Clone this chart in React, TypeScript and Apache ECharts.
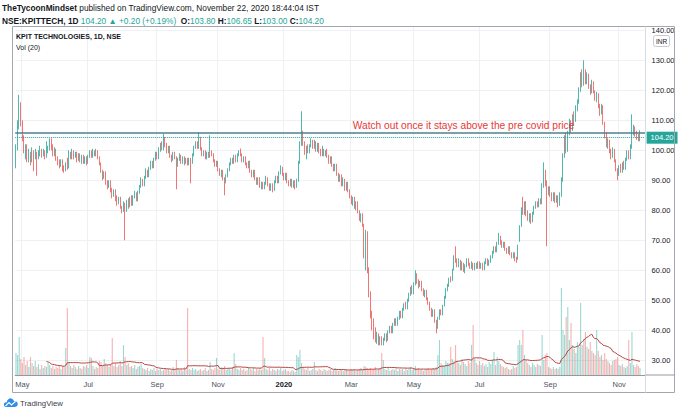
import React, { useEffect, useRef } from "react";
import * as echarts from "echarts";

// ---------- calendar ----------
const FIRST_DAY = "2019-04-24";
const LAST_DAY = "2020-11-20";
const HOLIDAYS = [
  "2019-04-29", "2019-05-01", "2019-06-05", "2019-08-12", "2019-08-15", "2019-09-02",
  "2019-09-10", "2019-10-02", "2019-10-08", "2019-10-21", "2019-10-28", "2019-11-12",
  "2019-12-25", "2020-02-21", "2020-03-10", "2020-04-02", "2020-04-06", "2020-04-10",
  "2020-04-14", "2020-05-01", "2020-05-25", "2020-10-02", "2020-11-16",
];
const PAD_DAYS = ["2020-11-23", "2020-11-24", "2020-11-25"];
const MONTHS = ["Jan", "Feb", "Mar", "Apr", "May", "Jun", "Jul", "Aug", "Sep", "Oct", "Nov", "Dec"];
const PRICE_TICKS = { min: 30, max: 140, step: 10 };

// ---------- daily candles [open, close, low, high] ----------
const CANDLES: number[][] = [
  [96,101,94,102],[101,108,100,110],[108,114,107,118.5],[114,109,108,116],[109,104,103,110],[104,100,99,105],[100,101,97,102],[101,97,96,102],[97,99,96,100.5],[99,97,95,99.5],
  [97,99.5,96,101],[99.5,98,93,100],[98,99,97,100.5],[99,97.5,91.5,99.5],[97.5,99,97,100],[99,100,98,101.5],[100,98.5,97.5,100.5],[98.5,99.5,98,100.5],[99.5,98,97,100],[98,99.5,97.5,103],
  [99.5,100.5,99,101.5],[100.5,103,100,104],[103,101,100,104],[101,98.5,98,102],[98.5,100,98,101],[100,97,96.5,100.5],[97,96,95,98],[96,95,94,97],[95,96.5,94.5,97],[96.5,94,93,97],
  [94,93.5,92.5,95],[93.5,95,93,96],[95,94.5,93.5,97.5],[94.5,99,94,100],[99,97.5,97,99.5],[97.5,99.5,97,100.5],[99.5,98,97,100],[98,99,97.5,99.5],[99,97,96,99.5],[97,98.5,96.5,99],
  [98.5,96.5,96,99],[96.5,98,95.5,98.5],[98,96,95.5,98.5],[96,97.5,95.5,98],[97.5,96,95,98],[96,98,95.5,98.5],[98,99.5,97.5,100],[99.5,98,97.5,100],[98,99.5,97.5,100.5],[99.5,98.5,98,100],
  [98.5,99.5,98,100.5],[99.5,97.5,97,100],[97.5,95.5,95,98],[95.5,93,92.5,96],[93,91,90,93.5],[91,92.5,90.5,93],[92.5,89,88.5,93],[89,88,87,90],[88,89.5,87.5,90],[89.5,87,86,90],
  [87,85,84,87.5],[85,86.5,84.5,87],[86.5,84,83,87],[84,82.5,81.5,85],[82.5,84,82,84.5],[84,81,80.5,84.5],[81,80,79,81.5],[80,82,79.5,83],[82,80,70,82.5],[80,83,79.5,83.5],
  [83,81.5,80.5,84],[81.5,84,81,84.5],[84,82,81.5,85],[82,84.5,81.5,85],[84.5,85.5,84,86.5],[85.5,83.5,83,86],[83.5,86,83,86.5],[86,88,85.5,88.5],[88,90,87.5,91],[90,88.5,88,90.5],
  [88.5,91,88,91.5],[91,93,90.5,94],[93,91.5,91,93.5],[91.5,94,91,94.5],[94,96,93.5,96.5],[96,94.5,94,96.5],[94.5,97,94,97.5],[97,99,96.5,99.5],[99,97.5,97,99.5],[97.5,100,97,101],
  [100,102,99.5,102.5],[102,100.5,100,103],[100.5,103.5,100,105.5],[103.5,102,101,104.5],[102,99.5,99,102.5],[99.5,101,99,101.5],[101,98,97.5,101.5],[98,97,96,98.5],[97,99,96.5,99.5],[99,97.5,97,99.5],
  [97.5,95,87,98],[95,97,94.5,97.5],[97,98,96.5,99],[98,96,95.5,98.5],[96,97.5,95.5,98],[97.5,96,95,98],[96,97,95.5,97.5],[97,95.5,95,97.5],[95.5,97,95,97.5],[97,96,89,97.5],
  [96,98.5,95.5,99],[98.5,101,98,101.5],[101,102.5,100.5,103],[102.5,101,100.5,103],[101,104,100.5,106],[104,100.5,100,104.5],[100.5,98.5,98,101],[98.5,99.5,98,100],[99.5,97.5,97,100],[97.5,99,97,99.5],
  [99,98,97.5,99.5],[98,99.5,97.5,105],[99.5,98.5,98,100],[98.5,96.5,96,99],[96.5,95,94.5,97],[95,96,94.5,96.5],[96,93.5,93,96.5],[93.5,92,91.5,94],[92,93,91,93.5],[93,90.5,90,93.5],
  [90.5,89.5,85,91],[89.5,91.5,89,92],[91.5,93.5,91,94],[93.5,95.5,93,96],[95.5,97,95,97.5],[97,96,95.5,97.5],[96,98,95.5,98.5],[98,96.5,96,98.5],[96.5,98.5,96,99],[98.5,99.5,98,100],
  [99.5,98.5,98,100.6],[98.5,96.5,96,99],[96.5,97.5,96,98],[97.5,95.5,95,98],[95.5,94.5,94,96],[94.5,96,94,96.5],[96,93,92.5,96.5],[93,91.5,91,93.5],[91.5,93,91,93.5],[93,90.5,90,93.5],
  [90.5,89,88.5,91],[89,90.5,88.5,91],[90.5,88,87.5,91],[88,89,87,89.5],[89,87.5,87,89.5],[87.5,89,87,89.5],[89,90.5,88.5,91.5],[90.5,88.5,88,91],[88.5,87,86.5,89],[87,88.5,86.5,89],
  [88.5,87,86,89],[87,89.5,86.5,90],[89.5,91,89,91.5],[91,89.5,89,91.5],[89.5,92.5,89,93],[92.5,94,92,95],[94,92,91.5,94.5],[92,90.5,90,92.5],[90.5,92,90,92.5],[92,89.5,89,92.5],
  [89.5,88.5,88,90],[88.5,90,88,90.5],[90,88,87.5,90.5],[88,89.5,87.5,90],[89.5,88,87,90],[88,90,87.5,90.5],[90,96,89.5,96.5],[96,102,95.5,103],[102,105,101.5,113],[105,102,101.5,106.5],
  [102,99,98.5,103],[99,101,97,101.5],[101,99.5,99,102],[99.5,101.5,99,102],[101.5,103,101,104],[103,101,100.5,103.5],[101,102.5,100.5,103.5],[102.5,100,99.5,103],[100,102,99.5,102.5],[102,100,99,102.5],
  [100,98.5,98,100.5],[98.5,100,98,101.5],[100,98.5,98,100.5],[98.5,99.5,98,100],[99.5,98,97.5,100.5],[98,96,95.5,98.5],[96,97.5,95.5,98],[97.5,95,94.5,98],[95,93.5,93,95.5],[93.5,95,93,95.5],
  [95,92,91.5,95.5],[92,90,89.5,92.5],[90,91.5,89.5,92],[91.5,88.5,88,92],[88.5,90,88,91],[90,87,86.5,90.5],[87,89,86.5,89.5],[89,86.5,86,89.5],[86.5,84.5,84,87],[84.5,82.5,82,85],
  [82.5,84,81.5,84.5],[84,81,80.5,84.5],[81,82.5,80,83],[82.5,79.5,79,83],[79.5,77,76.5,80],[77,78.5,76,79],[78.5,75,74.5,79],[75,66,64,75.5],[63,72,60,73.5],[72,60,59,73],
  [60,52,51,61],[52,45,44,53],[45,42,40,46.5],[42,38.5,37,44],[40,37,36,41],[37,38.5,35.5,39.5],[38.5,36,35,39],[36,37.5,35,38],[37.5,35.5,35,38],[35.5,37,35,37.5],
  [37,38.5,36.5,39],[38.5,37,36,39],[37,39.5,36.5,40],[39.5,41,39,41.5],[41,39.5,39,41.5],[39.5,42,39,42.5],[42,43.5,41.5,44],[43.5,42,41.5,44],[42,44,41.5,44.5],[44,46,43.5,46.5],
  [46,44.5,44,46.5],[44.5,47,44,47.5],[47,48.5,46.5,49],[48.5,47.5,47,49.5],[47.5,50,47,50.5],[50,52,49.5,52.5],[52,54,51.5,54.5],[54,52.5,52,55],[52.5,55.5,52,56],[55.5,58.5,55,60],
  [58.5,56,55.5,59],[56,55,54,57],[55,56,54.5,56.5],[56,53.5,53,56.5],[53.5,52,51.5,54],[52,53,51,53.5],[53,50.5,50,53.5],[50.5,49,48.5,51],[49,47,46.5,49.5],[47,45,44.5,47.5],
  [45,46.5,44.5,47],[46.5,43,42.5,47],[43,41,39,43.5],[41,44,40.5,44.5],[44,46.5,43.5,47],[46.5,45.5,45,47],[45.5,48,45,48.5],[48.5,51,48,51.5],[51,53.5,50.5,54],[53.5,55,53,55.5],
  [55,57,54.5,57.5],[57,56.5,56,58],[57,60,56.5,60.5],[60.5,64,60,65],[67,63,62.5,68],[63,61.5,61,64],[61.5,63,61,64],[63,60.5,60,63.5],[60.5,62,60,63],[62,60,59.5,62.5],
  [60,61.5,59,62],[61.5,63.5,61,64],[63.5,62,61.5,64],[62,61,60.5,62.5],[61,62,60.5,63],[62,60.5,60,62.5],[60.5,62,60,62.5],[62,61,60.5,62.5],[61,62.5,60.5,63],[62.5,61,60.5,63],
  [61,62,60.5,62.5],[62,60.5,60,62.5],[60.5,62.5,60,63],[62.5,63.5,62,64],[63.5,62,61.5,64],[62,63,61.5,63.5],[63,64.5,62.5,65],[64.5,66,64,66.5],[66,67.5,65.5,68],[67.5,66.5,66,68],
  [66.5,69,66,69.5],[69,71,68.5,72.5],[71,69,68.5,71.5],[69,68,67.5,70],[68,69,67.5,69.5],[69,67,66.5,69.5],[67,66,65.5,67.5],[66,67.5,65.5,68],[67.5,65.5,65,68],[65.5,64.5,64,66],
  [64.5,65.5,64,66],[65.5,64,63,66],[64,63.5,62.5,64.5],[64,68,63.5,68.5],[70,74,69.5,75],[75,80,74.5,81],[82,79,78.5,84.5],[79,82,78.5,83],[82,79,78,83],[79,77,76.5,80],
  [77,78.5,76,79],[78.5,76.5,75.5,79],[76.5,79,76,79.5],[79,81,78.5,81.5],[81,82.5,80.5,83],[82.5,81.5,81,83],[81.5,83.5,81,84],[83.5,82.5,82,84],[82.5,88,82,89],[88,93,87.5,96],
  [93,89,88,93.5],[89,86,68,90],[86,87.5,85,88],[87.5,85,84.5,88],[85,83.5,83,86],[83.5,85.5,83,86],[85.5,83,82.5,86],[83,84.5,82.5,85],[84.5,82,81,85],[82,85,81.5,86],
  [85,90,84.5,91],[90,98,89.5,99],[98,104,97.5,105],[104,100,99,106],[100,105.5,99.5,106.5],[105.5,109,105,110.5],[109,107,106,110],[107,111,106.5,112],[111,110,108.5,113],[110,114,109.5,115],
  [114,116,113,117],[116,120,115.5,121],[120,125,119.5,126],[125,122,121,127],[122,126,121.5,130],[126,122.5,122,127],[122.5,125,122,126],[125,121,120.5,125.5],[121,119.5,118.5,122],[119.5,122.5,119,123.5],
  [122.5,119.5,119,123],[119.5,117,116.5,120],[117,118.5,116,119.5],[118.5,114.5,114,119],[114.5,113,111.5,115.5],[113,114.5,112,115.5],[114.5,109,108.5,115],[109,105,104,109.5],[105,102,101,106],[102,103,100.5,104],
  [103,99.5,99,103.5],[99.5,98,97,100.5],[98,100,97.5,101],[100,96.5,96,100.5],[96.5,93.5,93,97],[93.5,92,90,94],[92,94.5,91.5,95],[94.5,93,92.5,95.5],[93,95.5,92.5,96],[95.5,94,93.5,96.5],
  [94,97,93.5,97.5],[97,99,96.5,100],[99,97.5,97,100],[97.5,101,97,102],[101,106,100.5,112],[106,107.5,105,108.5],[107.5,105,104.5,108],[105,104,103.5,106.5],[104.5,104,103,105.5],[103.8,104.2,103,106.65],
];

// ---------- daily volume ----------
const VOLUMES = [
  22,20,38,16,12,18,10,14,8,18, 12,9,14,8,11,6,10,7,9,8, 12,10,7,9,6,8,7,10,6,9, 8,27,67,12,9,7,10,8,6,9,
  7,6,9,8,10,7,18,17,9,6, 8,7,14,13,9,16,12,10,8,11, 37,9,12,8,10,14,9,30,18,10, 12,8,9,7,10,6,8,9,11,7,
  6,5,7,4,6,5,7,4,6,5, 6,4,5,7,5,6,4,5,8,6, 15,7,5,6,4,8,5,67,6,5, 7,5,6,4,5,6,4,5,7,4,
  5,13,6,5,7,17,6,5,8,6, 9,5,6,7,5,8,22,11,6,5, 7,5,6,4,5,8,6,5,7,4, 6,5,7,5,38,17,6,5,7,4,
  6,5,4,6,5,7,4,5,6,4, 4,3,5,4,3,20,18,25,12,8, 6,5,7,4,5,6,13,5,4,6, 5,4,6,5,4,5,6,4,5,7,
  5,4,6,5,4,5,6,4,5,6, 5,6,4,5,6,7,5,9,8,7, 6,7,5,6,8,5,6,7,22,15, 6,5,7,4,5,6,5,7,4,6,
  5,6,4,7,5,6,8,5,7,9, 6,7,5,6,4,5,6,7,5,6, 7,6,8,20,35,12,10,9,14,12, 12,28,16,14,30,14,12,10,16,13,
  11,9,14,12,30,50,16,12,10,14, 10,12,9,11,8,13,11,15,23,10, 18,14,11,9,8,7,8,6,5,6, 9,7,8,30,35,30,45,20,15,12,
  10,8,12,10,8,11,10,9,40,15, 20,22,8,7,6,8,6,7,6,8, 87,45,40,58,68,35,52,30,26,22, 33,28,72,30,36,43,28,26,33,24,
  22,20,45,24,18,20,15,22,16,14, 12,10,14,15,16,18,10,9,11,8, 7,9,35,12,43,10,8,11,9,7,
];
const VOL_MA_PERIOD = 20;

// ---------- annotations ----------
const PRE_COVID_LEVEL = 105.9;
const NOTE = "Watch out once it stays above the pre covid price";
const NOTE_ANCHOR = { index: 279, price: 108.3 };
const AUTHOR = "TheTycoonMindset";
const PUBLISHED = "November 22, 2020 18:44:04 IST";
const SYMBOL = "NSE:KPITTECH";
const TITLE = "KPIT TECHNOLOGIES, 1D, NSE";

// ---------- styling ----------
const UP = "#26a69a";
const DOWN = "#ef5350";
const UP_VOL = "rgba(38,166,154,0.45)";
const DOWN_VOL = "rgba(239,83,80,0.45)";
const TEXT = "#131722";
const GRID_LINE = "#eef0f4";
const FONT = "'Liberation Sans', Arial, 'DejaVu Sans', sans-serif";

function tradingDays(first: string, last: string, holidays: string[]): string[] {
  const skip = new Set(holidays);
  const out: string[] = [];
  const d = new Date(first + "T00:00:00Z");
  const end = new Date(last + "T00:00:00Z");
  while (d.getTime() <= end.getTime()) {
    const dow = d.getUTCDay();
    const s = d.toISOString().slice(0, 10);
    if (dow !== 0 && dow !== 6 && !skip.has(s)) out.push(s);
    d.setUTCDate(d.getUTCDate() + 1);
  }
  return out;
}

function buildOption() {
  const dates = tradingDays(FIRST_DAY, LAST_DAY, HOLIDAYS);
  const axisDates = dates.concat(PAD_DAYS);
  const n = Math.min(dates.length, CANDLES.length);

  const labelIdx = new Set<number>();
  for (let i = 1; i < n; i++) {
    const m = +dates[i].slice(5, 7) - 1;
    const pm = +dates[i - 1].slice(5, 7) - 1;
    if (m !== pm && m % 2 === 0) labelIdx.add(i);
  }
  const showIdx = (index: number) => labelIdx.has(index);

  const candleData = CANDLES.slice(0, n);
  const volData = VOLUMES.slice(0, n).map((v, i) => ({
    value: v,
    itemStyle: { color: candleData[i][1] >= candleData[i][0] ? UP_VOL : DOWN_VOL },
  }));
  const volMa = VOLUMES.slice(0, n).map((_, i) => {
    if (i < VOL_MA_PERIOD - 1) return "-";
    let s = 0;
    for (let k = i - VOL_MA_PERIOD + 1; k <= i; k++) s += VOLUMES[k];
    return +(s / VOL_MA_PERIOD).toFixed(2);
  });

  const last = candleData[n - 1];
  const prevClose = candleData[n - 2][1];
  const chg = last[1] - prevClose;
  const pct = (chg / prevClose) * 100;
  const f2 = (v: number) => v.toFixed(2);

  const line1 = `{b|${AUTHOR}}{n| published on TradingView.com, ${PUBLISHED}}`;
  const line2 =
    `{b|${SYMBOL}, 1D}{g| ${f2(last[1])} ▲ +${f2(chg)} (+${f2(pct)}%)}` +
    `{b|  O:}{g|${f2(last[0])}}{b| H:}{g|${f2(last[3])}}{b| L:}{g|${f2(last[2])}}{b| C:}{g|${f2(last[1])}}`;

  const headerRich = (size: number) => ({
    b: { fontWeight: "bold", fill: TEXT, fontSize: size, fontFamily: FONT },
    n: { fill: TEXT, fontSize: size, fontFamily: FONT },
    g: { fill: UP, fontSize: size, fontFamily: FONT },
  });

  const gridL = 15.2;
  const gridR = 34.4;

  return {
    animation: false,
    backgroundColor: "#ffffff",
    textStyle: { fontFamily: FONT },
    grid: [
      { left: gridL, right: gridR, top: 30.3, height: 330 },
      { left: gridL, right: gridR, top: 27, height: 348 },
    ],
    xAxis: [
      {
        type: "category",
        gridIndex: 0,
        data: axisDates,
        axisLine: { show: false },
        axisTick: { show: false },
        axisLabel: { show: false },
        splitLine: { show: false },
      },
      {
        type: "category",
        gridIndex: 1,
        data: axisDates,
        axisLine: { show: true, lineStyle: { color: "#9598a1", width: 1 } },
        axisTick: { show: false },
        axisLabel: {
          show: true,
          interval: (index: number) => showIdx(index),
          margin: 5,
          fontSize: 7.5,
          color: "#4c525e",
          formatter: (value: string) => {
            const m = +value.slice(5, 7) - 1;
            return m === 0 ? `{y|${value.slice(0, 4)}}` : MONTHS[m];
          },
          rich: { y: { fontWeight: "bold", fontSize: 7.5, color: TEXT } },
        },
        splitLine: {
          show: true,
          interval: (index: number) => showIdx(index),
          lineStyle: { color: GRID_LINE, width: 1 },
        },
      },
    ],
    yAxis: [
      {
        type: "value",
        gridIndex: 0,
        position: "right",
        min: PRICE_TICKS.min,
        max: PRICE_TICKS.max,
        interval: PRICE_TICKS.step,
        axisLine: { show: false },
        axisTick: { show: false },
        axisLabel: {
          margin: 6,
          fontSize: 7.5,
          color: TEXT,
          formatter: (v: number) => v.toFixed(2),
        },
        splitLine: { show: true, lineStyle: { color: GRID_LINE, width: 1 } },
      },
      {
        type: "value",
        gridIndex: 1,
        min: 0,
        max: 348,
        show: false,
        splitLine: { show: false },
      },
    ],
    series: [
      {
        name: "Volume",
        type: "bar",
        xAxisIndex: 1,
        yAxisIndex: 1,
        data: volData,
        barWidth: 1.1,
        z: 1,
        silent: true,
      },
      {
        name: "Vol MA",
        type: "line",
        xAxisIndex: 1,
        yAxisIndex: 1,
        data: volMa,
        showSymbol: false,
        symbol: "none",
        lineStyle: { color: "#b5443f", width: 1 },
        z: 2,
        silent: true,
      },
      {
        name: "KPITTECH",
        type: "candlestick",
        xAxisIndex: 0,
        yAxisIndex: 0,
        data: candleData,
        barWidth: "62%",
        z: 3,
        silent: true,
        itemStyle: {
          color: UP,
          color0: DOWN,
          borderColor: UP,
          borderColor0: DOWN,
          borderWidth: 0.8,
        },
        markLine: {
          silent: true,
          symbol: ["none", "none"],
          animation: false,
          data: [
            {
              yAxis: PRE_COVID_LEVEL,
              lineStyle: { color: "#4f7f8f", width: 1.5, type: "solid" },
              label: { show: false },
            },
            {
              yAxis: last[1],
              lineStyle: { color: UP, width: 1, type: "dotted" },
              label: {
                show: true,
                position: "end",
                distance: 1,
                formatter: () => f2(last[1]),
                backgroundColor: UP,
                color: "#ffffff",
                fontSize: 7.5,
                padding: [2, 4, 2, 4],
              },
            },
          ],
        },
        markPoint: {
          silent: true,
          animation: false,
          data: [
            {
              coord: [axisDates[NOTE_ANCHOR.index], NOTE_ANCHOR.price],
              symbol: "rect",
              symbolSize: [1, 1],
              itemStyle: { color: "rgba(0,0,0,0)" },
              label: {
                show: true,
                position: "inside",
                formatter: () => NOTE,
                color: "#e53935",
                fontSize: 10.2,
                fontFamily: FONT,
              },
            },
          ],
        },
      },
    ],
    graphic: [
      {
        type: "rect",
        z: 20,
        shape: { x: 12.5, y: 26.5, width: 662, height: 366 },
        style: { fill: "none", stroke: "#a4a7b0", lineWidth: 1 },
      },
      {
        type: "line",
        z: 20,
        shape: { x1: 645.5, y1: 26.5, x2: 645.5, y2: 392.5 },
        style: { stroke: "#d9dce3", lineWidth: 1 },
      },
      {
        type: "line",
        z: 20,
        shape: { x1: 645.5, y1: 375, x2: 674.5, y2: 375 },
        style: { stroke: "#9598a1", lineWidth: 1 },
      },
      {
        type: "text",
        z: 20,
        x: 2,
        y: 8,
        style: { text: line1, fontSize: 8.3, fontFamily: FONT, verticalAlign: "middle", rich: headerRich(8.3) },
      },
      {
        type: "text",
        z: 20,
        x: 2,
        y: 20.5,
        style: { text: line2, fontSize: 8.3, fontFamily: FONT, verticalAlign: "middle", rich: headerRich(8.3) },
      },
      {
        type: "text",
        z: 20,
        x: 16,
        y: 36.5,
        style: { text: TITLE, fontSize: 7, fontWeight: "bold", fontFamily: FONT, fill: TEXT, verticalAlign: "middle" },
      },
      {
        type: "text",
        z: 20,
        x: 16,
        y: 47,
        style: { text: `Vol (${VOL_MA_PERIOD})`, fontSize: 7, fontFamily: FONT, fill: TEXT, verticalAlign: "middle" },
      },
      {
        type: "rect",
        z: 30,
        shape: { x: 653.5, y: 35.5, width: 16, height: 11, r: 2 },
        style: { fill: "#ffffff", stroke: "#c6c9d1", lineWidth: 1 },
      },
      {
        type: "text",
        z: 31,
        x: 661.5,
        y: 41.2,
        style: { text: "INR", fontSize: 6.5, fontFamily: FONT, fill: TEXT, align: "center", verticalAlign: "middle" },
      },
      {
        type: "group",
        z: 20,
        x: 3,
        y: 397,
        children: [
          { type: "circle", shape: { cx: 7.5, cy: 5, r: 3.6 }, style: { fill: "#2e8ee6" } },
          { type: "circle", shape: { cx: 12, cy: 7, r: 2.8 }, style: { fill: "#2e8ee6" } },
          { type: "circle", shape: { cx: 3.2, cy: 7.6, r: 2.4 }, style: { fill: "#2e8ee6" } },
          { type: "rect", shape: { x: 3.2, y: 7, width: 8.8, height: 3 }, style: { fill: "#2e8ee6" } },
          {
            type: "polyline",
            shape: { points: [[2.5, 9], [6, 5.5], [8.5, 8], [12.5, 4.5]] },
            style: { stroke: "#ffffff", lineWidth: 1.1, fill: "none" },
          },
        ],
      },
      {
        type: "text",
        z: 20,
        x: 20,
        y: 403,
        style: { text: "TradingView", fontSize: 7.8, fontFamily: FONT, fill: "#3d4049", verticalAlign: "middle" },
      },
    ],
  };
}

export default function App() {
  const ref = useRef<HTMLDivElement>(null);
  useEffect(() => {
    if (!ref.current) return;
    const chart = echarts.init(ref.current, null, { renderer: "svg" });
    chart.setOption(buildOption() as any);
    return () => chart.dispose();
  }, []);
  return (
    <div
      ref={ref}
      style={{ position: "fixed", left: 0, top: 0, width: 680, height: 414, background: "#ffffff" }}
    />
  );
}
